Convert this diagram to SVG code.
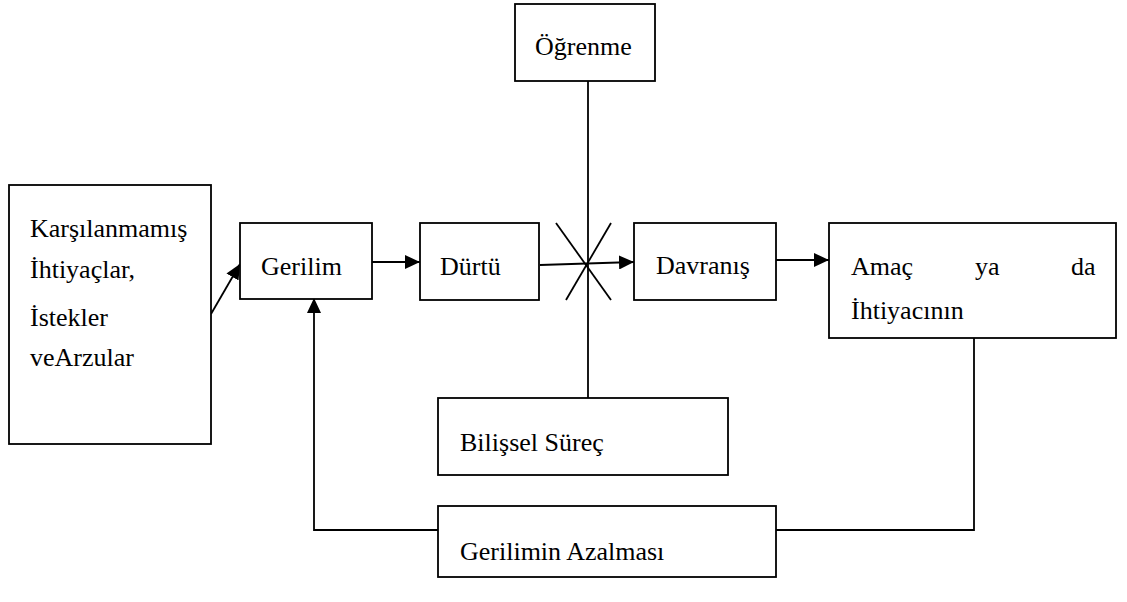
<svg xmlns="http://www.w3.org/2000/svg" width="1127" height="602" viewBox="0 0 1127 602">
<style>
.box{fill:#fff;stroke:#000;stroke-width:1.8}
.t{font-family:'Liberation Serif','Times New Roman',serif;font-size:26px;fill:#000}
.c{fill:none;stroke:#000;stroke-width:1.8}
</style>
<defs>
<marker id="ah" markerUnits="userSpaceOnUse" markerWidth="16" markerHeight="14" refX="15" refY="7" orient="auto">
<path d="M0,0 L15,7 L0,14 Z" fill="#000"/>
</marker>
</defs>
<rect width="1127" height="602" fill="#fff"/>
<g id="connectors">
<line class="c" x1="588" y1="81" x2="588" y2="398"/>
<line class="c" x1="556" y1="223" x2="611" y2="300"/>
<line class="c" x1="611" y1="223" x2="566" y2="300"/>
<line class="c" x1="211" y1="314" x2="240" y2="264" marker-end="url(#ah)"/>
<line class="c" x1="366" y1="262" x2="420" y2="262" marker-end="url(#ah)"/>
<line class="c" x1="540" y1="265" x2="634" y2="262" marker-end="url(#ah)"/>
<line class="c" x1="776" y1="260" x2="829" y2="260" marker-end="url(#ah)"/>
<polyline class="c" points="974,338 974,530 776,530"/>
<polyline class="c" points="438,530 314,530 314,298" marker-end="url(#ah)"/>
</g>
<g id="n-karsilanmamis">
<rect class="box" x="9" y="185" width="202" height="259"/>
<text class="t" x="30" y="237">Karşılanmamış</text>
<text class="t" x="30" y="278">İhtiyaçlar,</text>
<text class="t" x="30" y="326">İstekler</text>
<text class="t" x="30" y="366">veArzular</text>
</g>
<g id="n-gerilim">
<rect class="box" x="240" y="223" width="132" height="76"/>
<text class="t" x="261" y="275">Gerilim</text>
</g>
<g id="n-durtu">
<rect class="box" x="420" y="223" width="119" height="77"/>
<text class="t" x="440" y="275">Dürtü</text>
</g>
<g id="n-ogrenme">
<rect class="box" x="515" y="4" width="140" height="77"/>
<text class="t" x="535" y="55">Öğrenme</text>
</g>
<g id="n-davranis">
<rect class="box" x="634" y="223" width="142" height="77"/>
<text class="t" x="656" y="274">Davranış</text>
</g>
<g id="n-amac">
<rect class="box" x="829" y="223" width="287" height="115"/>
<text class="t" x="851" y="275">Amaç</text>
<text class="t" x="975" y="275">ya</text>
<text class="t" x="1071" y="275">da</text>
<text class="t" x="851" y="319">İhtiyacının</text>
</g>
<g id="n-bilissel">
<rect class="box" x="438" y="398" width="290" height="77"/>
<text class="t" x="460" y="451">Bilişsel Süreç</text>
</g>
<g id="n-azalma">
<rect class="box" x="438" y="506" width="338" height="71"/>
<text class="t" x="460" y="560">Gerilimin Azalması</text>
</g>
</svg>
